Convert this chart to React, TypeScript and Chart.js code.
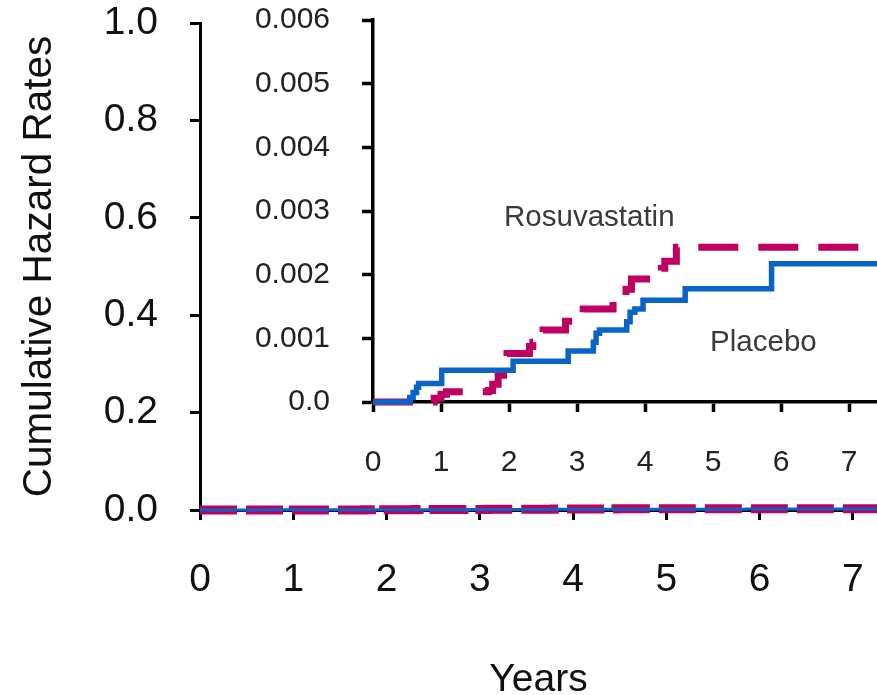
import React, { useEffect, useRef } from "react";
import { Chart, registerables } from "chart.js";

Chart.register(...registerables);

// ---- Data ----
const placeboYears = [0, 0.54, 0.59, 0.64, 0.67, 1.01, 2.06, 2.87, 3.24, 3.28, 3.33, 3.73, 3.78, 3.85, 3.97, 4.59, 5.86, 7.5];
const placeboHazard = [0, 0.00007, 0.00015, 0.00023, 0.00029, 0.0005, 0.00064, 0.0008, 0.00094, 0.00108, 0.00113, 0.00126, 0.00141, 0.00146, 0.0016, 0.00178, 0.00217, 0.00217];

const rosuYears = [0, 0.9, 1.0, 1.08, 1.7, 1.76, 1.84, 1.92, 1.97, 2.3, 2.35, 2.5, 2.83, 3.09, 3.53, 3.72, 3.8, 4.24, 4.29, 4.46, 7.5];
const rosuHazard = [0, 0.00006, 0.00012, 0.00016, 0.00018, 0.00028, 0.00042, 0.00058, 0.00076, 0.00087, 0.00094, 0.00113, 0.00127, 0.00146, 0.00165, 0.00177, 0.00193, 0.0021, 0.00221, 0.00243, 0.00243];

const mainYTicks = [0, 0.2, 0.4, 0.6, 0.8, 1.0];
const insetYTicks = [0, 0.001, 0.002, 0.003, 0.004, 0.005, 0.006];
const yearTicks = [0, 1, 2, 3, 4, 5, 6, 7];

const seriesLabelText = ["Rosuvastatin", "Placebo"];
const seriesLabelYear = [3.18, 5.74];
const seriesLabelHazard = [0.0029, 0.00093];

const BLUE = "#0a64c8";
const MAGENTA = "#bf0060";
const FONT = '"Liberation Sans", Arial, Helvetica, sans-serif';

const toPoints = (xs: number[], ys: number[]) => xs.map((x, i) => ({ x, y: ys[i] }));

const keepTicks = (values: number[]) => (scale: any) => {
  scale.ticks = values.map((v) => ({ value: v }));
};

const fixSize = (prop: "width" | "height", size: number) => (s: any) => {
  s[prop] = size;
  s.paddingTop = 0;
  s.paddingBottom = 0;
  s.paddingLeft = 0;
  s.paddingRight = 0;
};

const seriesLabelPlugin = {
  id: "seriesLabels",
  afterDatasetsDraw(chart: any) {
    const { ctx, scales } = chart;
    ctx.save();
    ctx.font = `29.5px ${FONT}`;
    ctx.fillStyle = "#3a3a3a";
    ctx.textAlign = "center";
    ctx.textBaseline = "middle";
    seriesLabelText.forEach((t, i) => {
      ctx.fillText(t, scales.x.getPixelForValue(seriesLabelYear[i]), scales.y.getPixelForValue(seriesLabelHazard[i]));
    });
    ctx.restore();
  },
};

function datasets(blueWidth: number, magWidth: number, dash: number[]) {
  return [
    {
      label: "Placebo",
      data: toPoints(placeboYears, placeboHazard),
      borderColor: BLUE,
      borderWidth: blueWidth,
      stepped: true,
      pointRadius: 0,
      fill: false,
      clip: false as any,
    },
    {
      label: "Rosuvastatin",
      data: toPoints(rosuYears, rosuHazard),
      borderColor: MAGENTA,
      borderWidth: magWidth,
      borderDash: dash,
      stepped: true,
      pointRadius: 0,
      fill: false,
      clip: false as any,
    },
  ];
}

export default function App() {
  const mainRef = useRef<HTMLCanvasElement>(null);
  const insetRef = useRef<HTMLCanvasElement>(null);

  useEffect(() => {
    const main = new Chart(mainRef.current!, {
      type: "line",
      data: { datasets: datasets(3, 9, [37, 9]) as any },
      options: {
        responsive: false,
        animation: false,
        layout: { padding: { top: 23, left: 0, right: 0, bottom: 0 } },
        plugins: { legend: { display: false }, tooltip: { enabled: false } },
        scales: {
          x: {
            type: "linear",
            min: 0,
            max: 7.26,
            afterBuildTicks: keepTicks(yearTicks),
            afterFit: fixSize("height", 185),
            ticks: {
              autoSkip: false,
              maxRotation: 0,
              padding: 37,
              color: "#111",
              font: { family: FONT, size: 39 },
              callback: (v: any) => String(v),
            },
            grid: { drawOnChartArea: false, drawTicks: true, tickLength: 10, tickWidth: 3, tickColor: "#000" },
            border: { color: "#000", width: 3 },
            title: {
              display: true,
              text: "Years",
              color: "#111",
              font: { family: FONT, size: 39, lineHeight: 1 },
              padding: { top: 0, bottom: -5 },
            },
          },
          y: {
            type: "linear",
            min: 0,
            max: 1,
            afterBuildTicks: keepTicks(mainYTicks),
            afterFit: fixSize("width", 200),
            ticks: {
              padding: 32,
              color: "#111",
              font: { family: FONT, size: 39 },
              callback: (v: any) => Number(v).toFixed(1),
            },
            grid: { drawOnChartArea: false, drawTicks: true, tickLength: 10, tickWidth: 3, tickColor: "#000" },
            border: { color: "#000", width: 3 },
            title: {
              display: true,
              text: "Cumulative Hazard Rates",
              color: "#111",
              font: { family: FONT, size: 40.5, lineHeight: 1 },
              padding: { top: 20, bottom: 0 },
            },
          },
        },
      },
    });

    const inset = new Chart(insetRef.current!, {
      type: "line",
      data: { datasets: datasets(5.5, 7, [40, 20]) as any },
      options: {
        responsive: false,
        animation: false,
        layout: { padding: { top: 20, left: 0, right: 0, bottom: 0 } },
        plugins: { legend: { display: false }, tooltip: { enabled: false } },
        scales: {
          x: {
            type: "linear",
            min: 0,
            max: 7.41,
            afterBuildTicks: keepTicks(yearTicks),
            afterFit: fixSize("height", 293),
            ticks: {
              autoSkip: false,
              maxRotation: 0,
              padding: 33,
              color: "#222",
              font: { family: FONT, size: 30 },
              callback: (v: any) => String(v),
            },
            grid: { drawOnChartArea: false, drawTicks: true, tickLength: 10, tickWidth: 3.5, tickColor: "#000" },
            border: { color: "#000", width: 3.5 },
          },
          y: {
            type: "linear",
            min: 0,
            max: 0.006,
            afterBuildTicks: keepTicks(insetYTicks),
            afterFit: fixSize("width", 373),
            ticks: {
              padding: 32,
              color: "#222",
              font: { family: FONT, size: 30 },
              callback: (v: any) => (Number(v) === 0 ? "0.0" : Number(v).toFixed(3)),
            },
            grid: { drawOnChartArea: false, drawTicks: true, tickLength: 11, tickWidth: 3.5, tickColor: "#000" },
            border: { color: "#000", width: 3.5 },
          },
        },
      },
      plugins: [seriesLabelPlugin],
    });

    return () => {
      main.destroy();
      inset.destroy();
    };
  }, []);

  return (
    <div style={{ position: "fixed", left: 0, top: 0, width: 877, height: 695, background: "#fff" }}>
      <canvas ref={mainRef} width={877} height={695} style={{ position: "absolute", left: 0, top: 0 }} />
      <canvas ref={insetRef} width={877} height={695} style={{ position: "absolute", left: 0, top: 0 }} />
    </div>
  );
}
